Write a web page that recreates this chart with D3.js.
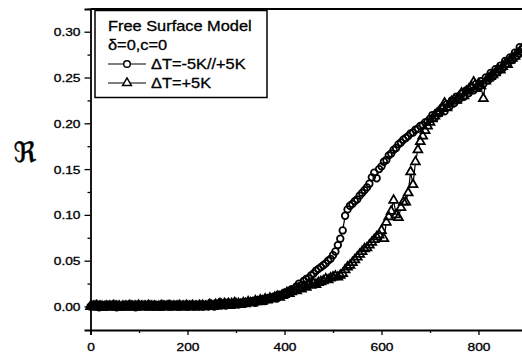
<!DOCTYPE html>
<html>
<head>
<meta charset="utf-8">
<script src="https://cdn.jsdelivr.net/npm/d3@7"></script>
<style>
  html, body { margin: 0; padding: 0; background: #fff; }
  svg { display: block; }
</style>
</head>
<body>
<svg id="chart" width="522" height="363"></svg>
<script>
// ---------------- DATA ----------------
const time = [
  0,3,6,9,12,15,18,21,24,27,
  30,33,36,39,42,45,48,51,54,57,
  60,63,66,69,72,75,78,81,84,87,
  90,93,96,99,102,105,108,111,114,117,
  120,123,126,129,132,135,138,141,144,147,
  150,153,156,159,162,165,168,171,174,177,
  180,183,186,189,192,195,198,201,204,207,
  210,213,216,219,222,225,228,231,234,237,
  240,243,246,249,252,255,258,261,264,267,
  270,273,276,279,282,285,288,291,294,297,
  300,
  305,310,315,320,325,330,335,340,345,350,
  355,360,365,370,375,380,385,390,395,400,
  405,410,415,420,425,430,435,440,445,450,
  455,460,465,470,475,480,485,490,495,500,
  505,510,515,520,525,530,535,540,545,550,
  555,560,565,570,575,580,585,590,595,600,
  605,610,615,620,625,630,635,640,645,650,
  655,660,665,670,675,680,685,690,695,700,
  705,710,715,720,725,730,735,740,745,750,
  755,760,765,770,775,780,785,790,795,800,
  805,810,815,820,825,830,835,840,845,850,
  855,860,865,870,875,880,885,890
];

// Series 1: ΔT=-5K//+5K (circles)
const rCircle = [
  0,0,0.001,0,0,0,-0.001,0,0,0,
  0,0,0,0.001,0,0,0,0,-0.001,0,
  0,0,0,0,0.001,0,0,0,0,0,
  0,-0.001,0,0,0,0,0.001,0,0,0,
  0,0,0,0,0,0.001,0,0,0,0,
  0,0,0.001,0,0,0,0,0,0.001,0,
  0,0,0,0,0.001,0,0,0,0,0.001,
  0,0,0,0.001,0,0,0.001,0,0,0.001,
  0.001,0,0.001,0.002,0.001,0,0.002,0.001,0.001,0.002,
  0.001,0.002,0.002,0.001,0.003,0.002,0.002,0.003,0.002,0.002,
  0.003,
  0.002,0.004,0.003,0.005,0.004,0.005,0.006,0.004,0.007,0.006,
  0.008,0.006,0.009,0.008,0.010,0.011,0.009,0.013,0.012,0.015,
  0.013,0.017,0.019,0.017,0.022,0.025,0.023,0.028,0.030,0.031,
  0.034,0.036,0.039,0.041,0.043,0.045,0.047,0.050,0.052,0.056,
  0.060,0.067,0.074,0.083,0.099,0.106,0.110,0.112,0.115,0.117,
  0.121,0.124,0.127,0.130,0.134,0.141,0.146,0.140,0.150,0.153,
  0.158,0.160,0.165,0.167,0.171,0.173,0.177,0.179,0.182,0.184,
  0.186,0.189,0.190,0.193,0.194,0.197,0.198,0.201,0.202,0.205,
  0.209,0.206,0.212,0.211,0.217,0.213,0.221,0.218,0.225,0.222,
  0.229,0.226,0.232,0.229,0.236,0.233,0.239,0.236,0.243,0.240,
  0.246,0.243,0.250,0.247,0.255,0.251,0.259,0.256,0.263,0.260,
  0.268,0.265,0.272,0.269,0.277,0.274,0.283,0.281
];

// Series 2: ΔT=+5K (triangles)
const rTriangle = [
  0,0,0,0,0.001,0,0,0,0,-0.001,
  0,0,0,0,0,0,0.001,0,0,0,
  0,-0.001,0,0,0,0,0,0.001,0,0,
  0,0,0,0.001,0,0,0,0,0,0,
  0.001,0,0,0,0,0,-0.001,0,0,0.001,
  0,0,0,0,0.001,0,0,0,0,0,
  0,0.001,0,0,0,0,0.001,0,0,0,
  0.001,0,0,0,0,0.001,0,0.001,0,0,
  0,0.001,0.002,0.001,0,0.001,0.002,0.001,0.002,0.003,
  0.002,0.001,0.003,0.002,0.002,0.003,0.001,0.003,0.002,0.004,
  0.003,
  0.003,0.002,0.004,0.003,0.005,0.004,0.004,0.006,0.005,0.007,
  0.006,0.008,0.007,0.009,0.008,0.010,0.011,0.010,0.012,0.013,
  0.015,0.014,0.016,0.018,0.017,0.020,0.019,0.022,0.021,0.024,
  0.023,0.025,0.024,0.026,0.027,0.028,0.030,0.029,0.031,0.032,
  0.033,0.032,0.034,0.036,0.040,0.043,0.045,0.048,0.051,0.054,
  0.057,0.060,0.063,0.064,0.067,0.070,0.073,0.076,0.078,0.083,
  0.074,0.092,0.098,0.104,0.116,0.100,0.097,0.108,0.114,0.114,
  0.124,0.147,0.133,0.158,0.171,0.180,0.186,0.192,0.197,0.201,
  0.205,0.208,0.211,0.213,0.216,0.222,0.217,0.221,0.224,0.226,
  0.225,0.229,0.233,0.230,0.235,0.237,0.240,0.245,0.238,0.243,
  0.241,0.227,0.246,0.249,0.251,0.253,0.255,0.259,0.258,0.262,
  0.265,0.264,0.269,0.271,0.273,0.276,0.278,0.281
];

const xMajorTicks = [0, 200, 400, 600, 800];
const xMinorTicks = [100, 300, 500, 700, 900];
const yMajorTicks = [0.00, 0.05, 0.10, 0.15, 0.20, 0.25, 0.30];
const yMinorTicks = [0.025, 0.075, 0.125, 0.175, 0.225, 0.275, 0.325];
const legendTitle = ["Free Surface Model", "δ=0,c=0"];
const seriesNames = ["ΔT=-5K//+5K", "ΔT=+5K"];
const yLabel = "ℜ";

// ---------------- LAYOUT ----------------
const svg = d3.select("#chart");
const FONT = "'Liberation Sans', Arial, Helvetica, sans-serif";
const L = 90.5, R = 90.5 + 0.485 * 900, T = 9, B = 330;

const x = d3.scaleLinear().domain([0, 900]).range([L, R]);
const y = d3.scaleLinear().domain([-0.0257, 0.3248]).range([B, T]);

const sC = time.map((t, i) => ({ t, v: rCircle[i] }));
const sT = time.map((t, i) => ({ t, v: rTriangle[i] }));

const line = d3.line().x(d => x(d.t)).y(d => y(d.v));

const CIRC_SIZE = Math.PI * 3.3 * 3.3, TRI_SIZE = 34, MK_SW = 1.75;
const series = [
  { data: sC, sym: d3.symbol().type(d3.symbolCircle).size(CIRC_SIZE) },
  { data: sT, sym: d3.symbol().type(d3.symbolTriangle).size(TRI_SIZE) }
];

const plot = svg.append("g");
// connecting lines
series.forEach(s => {
  plot.append("path").datum(s.data)
    .attr("d", line).attr("fill", "none")
    .attr("stroke", "#000").attr("stroke-width", 1.2);
});
// marker fills (white), then marker outlines on top
series.forEach(s => {
  plot.append("g").selectAll("path").data(s.data).join("path")
    .attr("d", s.sym)
    .attr("transform", d => `translate(${x(d.t)},${y(d.v)})`)
    .attr("fill", "#fff").attr("stroke", "none");
});
series.forEach(s => {
  plot.append("g").selectAll("path").data(s.data).join("path")
    .attr("d", s.sym)
    .attr("transform", d => `translate(${x(d.t)},${y(d.v)})`)
    .attr("fill", "none").attr("stroke", "#000").attr("stroke-width", MK_SW);
});

// ---------------- AXES ----------------
const TICK_FS = 11, TICK_SX = 1.25;

const yAxis = svg.append("g").attr("transform", `translate(${L},0)`)
  .call(d3.axisLeft(y).tickValues(yMajorTicks).tickSize(6).tickFormat(d3.format(".2f")));
svg.append("g").attr("transform", `translate(${L},0)`)
  .call(d3.axisLeft(y).tickValues(yMinorTicks).tickSize(3).tickFormat(""))
  .call(g => g.select(".domain").remove());

const xAxis = svg.append("g").attr("transform", `translate(0,${B})`)
  .call(d3.axisBottom(x).tickValues(xMajorTicks).tickSize(5).tickFormat(d3.format("d")));
svg.append("g").attr("transform", `translate(0,${B})`)
  .call(d3.axisBottom(x).tickValues(xMinorTicks).tickSize(3).tickFormat(""))
  .call(g => g.select(".domain").remove());

svg.selectAll(".tick line").attr("stroke", "#000").attr("stroke-width", 1.3);
svg.selectAll(".domain").attr("stroke", "#000").attr("stroke-width", 1.8);

yAxis.selectAll(".tick text")
  .attr("font-family", FONT).attr("font-size", TICK_FS).attr("fill", "#000")
  .attr("stroke", "#000").attr("stroke-width", 0.3)
  .attr("x", -10 / TICK_SX).attr("dy", "0.36em")
  .attr("transform", `scale(${TICK_SX},1)`);
xAxis.selectAll(".tick text")
  .attr("font-family", FONT).attr("font-size", TICK_FS).attr("fill", "#000")
  .attr("stroke", "#000").attr("stroke-width", 0.3)
  .attr("y", 21).attr("dy", 0)
  .attr("transform", `scale(${TICK_SX},1)`);

// top / right frame lines
svg.append("line").attr("x1", L).attr("x2", R).attr("y1", T).attr("y2", T)
  .attr("stroke", "#000").attr("stroke-width", 1.8);
svg.append("line").attr("x1", R).attr("x2", R).attr("y1", T).attr("y2", B)
  .attr("stroke", "#000").attr("stroke-width", 1.8);

// y label
svg.append("text").attr("x", 25).attr("y", 162)
  .attr("text-anchor", "middle")
  .attr("font-family", "'DejaVu Serif', 'DejaVu Sans', serif").attr("font-size", 28)
  .attr("fill", "#000").attr("stroke", "#000").attr("stroke-width", 0.4)
  .text(yLabel);

// ---------------- LEGEND ----------------
const LG_FS = 14, LG_SX = 1.17;
const lg = svg.append("g");
lg.append("rect").attr("x", 95).attr("y", 10.5).attr("width", 172).attr("height", 87)
  .attr("fill", "#fff").attr("stroke", "#000").attr("stroke-width", 1.5);

function lgText(str, tx, ty) {
  lg.append("text")
    .attr("transform", `translate(${tx},${ty}) scale(${LG_SX},1)`)
    .attr("font-family", FONT).attr("font-size", LG_FS).attr("fill", "#000")
    .attr("stroke", "#000").attr("stroke-width", 0.3)
    .text(str);
}
lgText(legendTitle[0], 108, 31);
lgText(legendTitle[1], 108, 50);

seriesNames.forEach((name, i) => {
  const by = 69 + i * 19;
  const cy = by - 5;
  lg.append("line").attr("x1", 108).attr("x2", 146).attr("y1", cy).attr("y2", cy)
    .attr("stroke", "#000").attr("stroke-width", 1.2);
  lg.append("path").attr("d", series[i].sym)
    .attr("transform", `translate(127,${cy})`)
    .attr("fill", "#fff").attr("stroke", "#000").attr("stroke-width", 1.45);
  lgText(name, 151, by);
});
</script>
</body>
</html>
